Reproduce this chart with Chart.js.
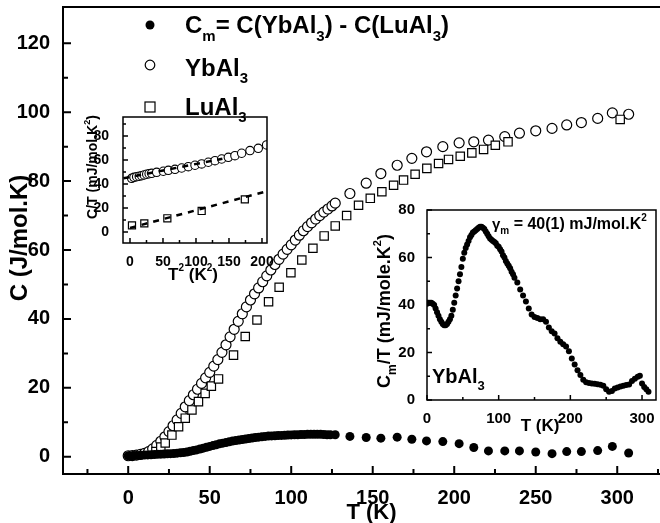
<!DOCTYPE html>
<html>
<head>
<meta charset="utf-8">
<script src="https://cdn.jsdelivr.net/npm/chart.js@4.4.0/dist/chart.umd.min.js"></script>
<style>
body { margin: 0; background: #fff; overflow: hidden; }
#marco { position: relative; width: 660px; height: 523px; overflow: hidden; background: #fff; }
canvas { position: absolute; }
</style>
</head>
<body>
<div id="marco">
    <canvas id="graficoPrincipal" width="690" height="523" style="left:0;top:0"></canvas>
    <canvas id="recuadro1" width="220" height="180" style="left:60px;top:110px"></canvas>
    <canvas id="recuadro2" width="290" height="240" style="left:370px;top:200px"></canvas>
</div>
<script>
// Datos del gráfico principal: C (J/mol.K) frente a T (K)
const T_DENSO = [0,2.5,5,7.5,10,12.5,15,17.5,20,22.5,25,27.5,30,32.5,35,37.5,40,42.5,45,47.5,50,52.5,55,57.5,60,62.5,65,67.5,70,72.5,75,77.5,80,82.5,85,87.5,90,92.5,95,97.5,100,102.5,105,107.5,110,112.5,115,117.5,120,122.5,125];
const C_YB_DENSO = [0.3,0.35,0.5,0.7,1.0,1.5,2.3,3.3,4.5,5.8,7.3,9.0,10.7,12.6,14.5,16.3,18.0,19.6,21.3,22.9,24.5,26.3,28.2,30.3,32.5,34.8,37.0,39.3,41.5,43.5,45.5,47.3,49.0,50.8,52.5,54.2,55.8,57.3,58.8,60.2,61.5,62.9,64.3,65.6,66.8,67.9,69.0,70.0,71.0,71.9,72.8];

const T_CM_DENSO = [0,2,4,6,8,10,12,14,16,18,20,22,24,26,28,30,32,34,36,38,40,42,44,46,48,50,52,54,56,58,60,62,64,66,68,70,72,74,76,78,80,82,84,86,88,90,92,94,96,98,100,102,104,106,108,110,112,114,116,118,120,122,124];
const CM_DENSO = [0.3,0.3,0.35,0.4,0.45,0.5,0.55,0.6,0.65,0.7,0.75,0.8,0.85,0.9,0.95,1.05,1.15,1.25,1.4,1.6,1.8,2.0,2.25,2.5,2.75,3.0,3.25,3.5,3.75,3.95,4.15,4.35,4.55,4.7,4.85,5.0,5.15,5.3,5.45,5.6,5.7,5.8,5.9,6.0,6.05,6.1,6.15,6.2,6.25,6.3,6.35,6.4,6.4,6.45,6.45,6.5,6.5,6.5,6.5,6.5,6.45,6.4,6.4];

const T_DISPERSO = [127,136,146,155,165,174,183,193,203,212,221,231,240,250,260,269,278,288,297,307];
const C_YB_DISPERSO = [73.6,76.4,79.4,82.2,84.6,86.6,88.5,90.0,91.1,91.4,91.9,92.9,93.9,94.6,95.3,96.3,97.0,98.2,99.8,99.4];
const CM_DISPERSO = [6.4,5.9,5.6,5.4,5.7,5.1,4.6,4.4,3.8,2.7,1.7,1.7,1.7,1.4,0.9,1.5,1.5,1.8,3.0,1.1];

const T_LU = [17,20,22.7,26.8,30.9,35,39.1,43.1,47.2,51,55.4,64.6,71.8,79,86.1,92.6,99.8,106.5,113.3,120.2,127,134,141.3,148.5,155.6,162.8,168.9,176,183.2,190.4,196.5,203.7,210.8,218,225.2,233,301.8];
const C_LU = [1.5,2.8,4.0,6.3,8.7,11.2,13.6,16.0,18.4,20.5,22.6,29.5,34.9,39.7,45.0,49.2,53.4,57.1,60.5,64.1,67.0,70.0,73.0,75.0,76.9,78.8,80.3,82.0,83.7,85.1,86.3,87.2,88.2,89.2,90.4,91.4,97.9];

// Recuadro 1: C/T frente a T^2
const T2_YB = [2.5,6,10.1,14,17.7,21.5,25.3,29,32.8,40.4,50.5,58.1,68.2,78.3,88.4,98.5,108.6,118.7,128.8,138.9,149,159,169.2,181.8,194.4,207];
const CT_YB = [44.7,45.5,46.1,46.5,46.9,47.5,48.1,48.5,48.9,49.7,50.6,51.4,52.2,53.3,54.4,55.6,56.7,58.1,59.4,60.8,62.2,63.6,65.6,67.8,69.7,72.5];
const T2_LU = [3,21.7,56.6,108.6,174];
const CT_LU = [5.5,7.2,11.4,17.5,27.2];
const AJUSTE_YB_X = [-10,140];
const AJUSTE_YB_Y = [44.7,61.0];
const AJUSTE_LU_X = [0,205];
const AJUSTE_LU_Y = [3.3,33.6];

// Recuadro 2: Cm/T (mJ/mole.K^2) frente a T
const T_CMT = [0,2,4,6,8,10,12,14,16,18,20,22,24,26,28,30,32,34,36,38,40,42,44,46,48,50,52,54,56,58,60,62,64,66,68,70,72,74,76,78,80,82,84,86,88,90,92,94,96,98,100,102,104,106,108,110,112,114,116,118,120,122,
    126,130,134,138,142,146,150,154,158,162,166,170,174,178,182,186,190,194,198,202,206,210,214,218,222,226,230,234,238,242,246,250,254,258,262,266,270,274,278,282,286,290,294,297,300,303,306,309];
const CMT = [40.5,41,41,41,40.5,40,38.5,37,35.5,34,33,32,31.5,31.5,32,33,34,35.5,38,41,44,47,50,53,56,59.5,62,64,65.5,67,68.5,69.5,70.5,71,71.5,72,72.5,73,73,72.5,72,71,70,69,68,67.5,67,66.5,66,65,64.5,63.5,62.5,61,60,58.5,57.5,56.5,55.5,54,53,51.5,
    49.5,46.5,44,41.5,38.5,36,35,34.5,34,34,33,30.5,29,28,26,24.5,23.5,22.5,20.5,17.5,15,12.5,10.5,8.5,7.5,7.2,7,6.8,6.6,6.4,6,4.5,3.5,3.8,4.8,5.3,5.7,6,6.3,6.5,8,9,9.8,10.2,7,5.5,4.5,3.5];

// Ejes
const X_MAYOR = [0,50,100,150,200,250,300];
const X_MENOR = [-25,25,75,125,175,225,275,325];
const Y_MAYOR = [0,20,40,60,80,100,120];
const Y_MENOR = [10,30,50,70,90,110];

const FUENTE = "'Liberation Sans', Arial, Helvetica, sans-serif";

function puntos(xs, ys) {
    return xs.map(function(x, i) { return { x: x, y: ys[i] }; });
}

// Texto con subíndices/superíndices: partes = [texto, tamaño, desplazamientoY]
function texto(ctx, partes, x, y, centrado) {
    let ancho = 0;
    partes.forEach(function(p) {
        ctx.font = 'bold ' + p[1] + 'px ' + FUENTE;
        ancho += ctx.measureText(p[0]).width;
    });
    let cx = centrado ? x - ancho / 2 : x;
    ctx.fillStyle = '#000';
    ctx.textAlign = 'left';
    ctx.textBaseline = 'alphabetic';
    partes.forEach(function(p) {
        ctx.font = 'bold ' + p[1] + 'px ' + FUENTE;
        ctx.fillText(p[0], cx, y + (p[2] || 0));
        cx += ctx.measureText(p[0]).width;
    });
}

function textoVertical(ctx, partes, x, y) {
    ctx.save();
    ctx.translate(x, y);
    ctx.rotate(-Math.PI / 2);
    texto(ctx, partes, 0, 0, true);
    ctx.restore();
}

// Marco y marcas hacia dentro
function dibujarMarco(chart, cfg) {
    const ctx = chart.ctx, a = chart.chartArea;
    const sx = chart.scales.x, sy = chart.scales.y;
    ctx.save();
    ctx.strokeStyle = '#000';
    ctx.lineWidth = cfg.grosor;
    ctx.beginPath();
    if (cfg.caja) {
        ctx.rect(a.left, a.top, a.right - a.left, a.bottom - a.top);
    } else {
        ctx.moveTo(a.right, a.top);
        ctx.lineTo(a.left, a.top);
        ctx.lineTo(a.left, a.bottom);
        ctx.lineTo(a.right, a.bottom);
    }
    ctx.stroke();
    ctx.lineWidth = cfg.grosorMarca;
    ctx.beginPath();
    cfg.xMayor.forEach(function(v) { const p = sx.getPixelForValue(v); ctx.moveTo(p, a.bottom); ctx.lineTo(p, a.bottom - cfg.largo); });
    cfg.xMenor.forEach(function(v) { const p = sx.getPixelForValue(v); ctx.moveTo(p, a.bottom); ctx.lineTo(p, a.bottom - cfg.corto); });
    cfg.yMayor.forEach(function(v) { const p = sy.getPixelForValue(v); ctx.moveTo(a.left, p); ctx.lineTo(a.left + cfg.largo, p); });
    cfg.yMenor.forEach(function(v) { const p = sy.getPixelForValue(v); ctx.moveTo(a.left, p); ctx.lineTo(a.left + cfg.corto, p); });
    ctx.stroke();
    ctx.restore();
}

function escala(min, max, marcas, tamFuente, relleno, tamEje, esX) {
    return {
        type: 'linear',
        min: min,
        max: max,
        grid: { display: false },
        border: { display: false },
        afterBuildTicks: function(s) { s.ticks = marcas.map(function(v) { return { value: v }; }); },
        afterFit: function(s) {
            if (esX) { s.height = tamEje; } else { s.width = tamEje; }
            // sin relleno extra para que el área del gráfico quede fija
            s.paddingLeft = 0; s.paddingRight = 0; s.paddingTop = 0; s.paddingBottom = 0;
        },
        ticks: {
            color: '#000',
            padding: relleno,
            autoSkip: false,
            maxRotation: 0,
            font: { family: FUENTE, size: tamFuente, weight: 'bold' },
            callback: function(v) { return String(v); }
        }
    };
}

const opcionesBase = {
    responsive: false,
    animation: false,
    devicePixelRatio: 1,
    events: [],
    plugins: { legend: { display: false }, tooltip: { enabled: false } }
};

// Gráfico principal
new Chart(document.getElementById('graficoPrincipal').getContext('2d'), {
    type: 'scatter',
    data: {
        datasets: [
            {
                data: puntos(T_CM_DENSO, CM_DENSO).concat(puntos(T_DISPERSO, CM_DISPERSO)),
                pointStyle: 'circle', pointRadius: 4.5, borderWidth: 0,
                backgroundColor: '#000', borderColor: '#000', order: 1
            },
            {
                data: puntos(T_LU, C_LU),
                pointStyle: 'rect', pointRadius: 5.9, borderWidth: 1.2,
                backgroundColor: '#fff', borderColor: '#000', order: 2
            },
            {
                data: puntos(T_DENSO, C_YB_DENSO).concat(puntos(T_DISPERSO, C_YB_DISPERSO)),
                pointStyle: 'circle', pointRadius: 5, borderWidth: 1.2,
                backgroundColor: '#fff', borderColor: '#000', order: 3
            }
        ]
    },
    options: Object.assign({}, opcionesBase, {
        layout: { padding: { left: 0, top: 7, right: 10, bottom: 0 } },
        scales: {
            x: escala(-40, 338.5, X_MAYOR, 20, 4, 49, true),
            y: escala(-5, 130.5, Y_MAYOR, 20, 5, 63, false)
        }
    }),
    plugins: [{
        id: 'decoracionPrincipal',
        afterDraw: function(chart) {
            const ctx = chart.ctx;
            dibujarMarco(chart, { caja: false, grosor: 2, grosorMarca: 2, largo: 8, corto: 5,
                xMayor: X_MAYOR, xMenor: X_MENOR, yMayor: Y_MAYOR, yMenor: Y_MENOR });
            // Leyenda
            ctx.save();
            ctx.fillStyle = '#000';
            ctx.beginPath(); ctx.arc(150, 25, 4.5, 0, Math.PI * 2); ctx.fill();
            ctx.strokeStyle = '#000'; ctx.lineWidth = 1.2;
            ctx.beginPath(); ctx.arc(150, 65, 4.8, 0, Math.PI * 2); ctx.stroke();
            ctx.strokeRect(145, 102, 10, 10);
            ctx.restore();
            texto(ctx, [['C', 24], ['m', 15, 8], ['= C(YbAl', 24], ['3', 15, 8], [') - C(LuAl', 24], ['3', 15, 8], [')', 24]], 185, 33);
            texto(ctx, [['YbAl', 24], ['3', 15, 7]], 185, 76);
            texto(ctx, [['LuAl', 24], ['3', 15, 7]], 185, 115);
            // Títulos de ejes
            texto(ctx, [['T (K)', 22]], (chart.chartArea.left + chart.chartArea.right) / 2, 519, true);
            textoVertical(ctx, [['C (J/mol.K)', 24]], 27, 238);
        }
    }]
});

// Recuadro 1
new Chart(document.getElementById('recuadro1').getContext('2d'), {
    type: 'scatter',
    data: {
        datasets: [
            {
                data: puntos(AJUSTE_YB_X, AJUSTE_YB_Y), showLine: true, pointRadius: 0,
                borderColor: '#000', borderWidth: 2.5, borderDash: [6, 6], order: 0
            },
            {
                data: puntos(AJUSTE_LU_X, AJUSTE_LU_Y), showLine: true, pointRadius: 0,
                borderColor: '#000', borderWidth: 2.5, borderDash: [6, 6], order: 0
            },
            {
                data: puntos(T2_LU, CT_LU), pointStyle: 'rect', pointRadius: 5, borderWidth: 1.2,
                backgroundColor: '#fff', borderColor: '#000', order: 1
            },
            {
                data: puntos(T2_YB, CT_YB), pointStyle: 'circle', pointRadius: 4.2, borderWidth: 1.1,
                backgroundColor: '#fff', borderColor: '#000', order: 2
            }
        ]
    },
    options: Object.assign({}, opcionesBase, {
        layout: { padding: { left: 0, top: 7, right: 13, bottom: 0 } },
        scales: {
            x: escala(-10.6, 207.6, [0, 50, 100, 150, 200], 14, 3, 47, true),
            y: escala(-9.2, 95.8, [0, 20, 40, 60, 80], 14, 6, 63, false)
        }
    }),
    plugins: [{
        id: 'decoracionRecuadro1',
        afterDraw: function(chart) {
            const ctx = chart.ctx;
            dibujarMarco(chart, { caja: true, grosor: 1.5, grosorMarca: 1.5, largo: 5, corto: 3,
                xMayor: [0, 50, 100, 150, 200], xMenor: [25, 75, 125, 175],
                yMayor: [0, 20, 40, 60, 80], yMenor: [10, 30, 50, 70, 90] });
            texto(ctx, [['T', 17], ['2', 10, -9], [' (K', 17], ['2', 10, -9], [')', 17]], 133, 170, true);
            textoVertical(ctx, [['C/T (mJ/mol.K', 14], ['2', 9, -7], [')', 14]], 37, 57);
        }
    }]
});

// Recuadro 2
new Chart(document.getElementById('recuadro2').getContext('2d'), {
    type: 'scatter',
    data: {
        datasets: [{
            data: puntos(T_CMT, CMT), pointStyle: 'circle', pointRadius: 3, borderWidth: 0,
            backgroundColor: '#000', borderColor: '#000'
        }]
    },
    options: Object.assign({}, opcionesBase, {
        layout: { padding: { left: 0, top: 10, right: 3, bottom: 0 } },
        scales: {
            x: escala(0, 319.5, [0, 100, 200, 300], 15, 2, 40, true),
            y: escala(0, 80, [0, 20, 40, 60, 80], 15, 4, 57, false)
        }
    }),
    plugins: [{
        id: 'decoracionRecuadro2',
        afterDraw: function(chart) {
            const ctx = chart.ctx;
            dibujarMarco(chart, { caja: true, grosor: 1.5, grosorMarca: 1.5, largo: 5, corto: 3,
                xMayor: [0, 100, 200, 300], xMenor: [50, 150, 250],
                yMayor: [0, 20, 40, 60, 80], yMenor: [10, 30, 50, 70] });
            texto(ctx, [['\u03B3', 15], ['m', 10, 5], [' = 40(1) mJ/mol.K', 16], ['2', 10, -8]], 122, 29);
            texto(ctx, [['YbAl', 20], ['3', 13, 7]], 62, 183);
            texto(ctx, [['T (K)', 17]], 170, 231, true);
            textoVertical(ctx, [['C', 18], ['m', 12, 6], ['/T (mJ/mole.K', 18], ['2', 11, -9], [')', 18]], 20, 111);
        }
    }]
});
</script>
</body>
</html>
